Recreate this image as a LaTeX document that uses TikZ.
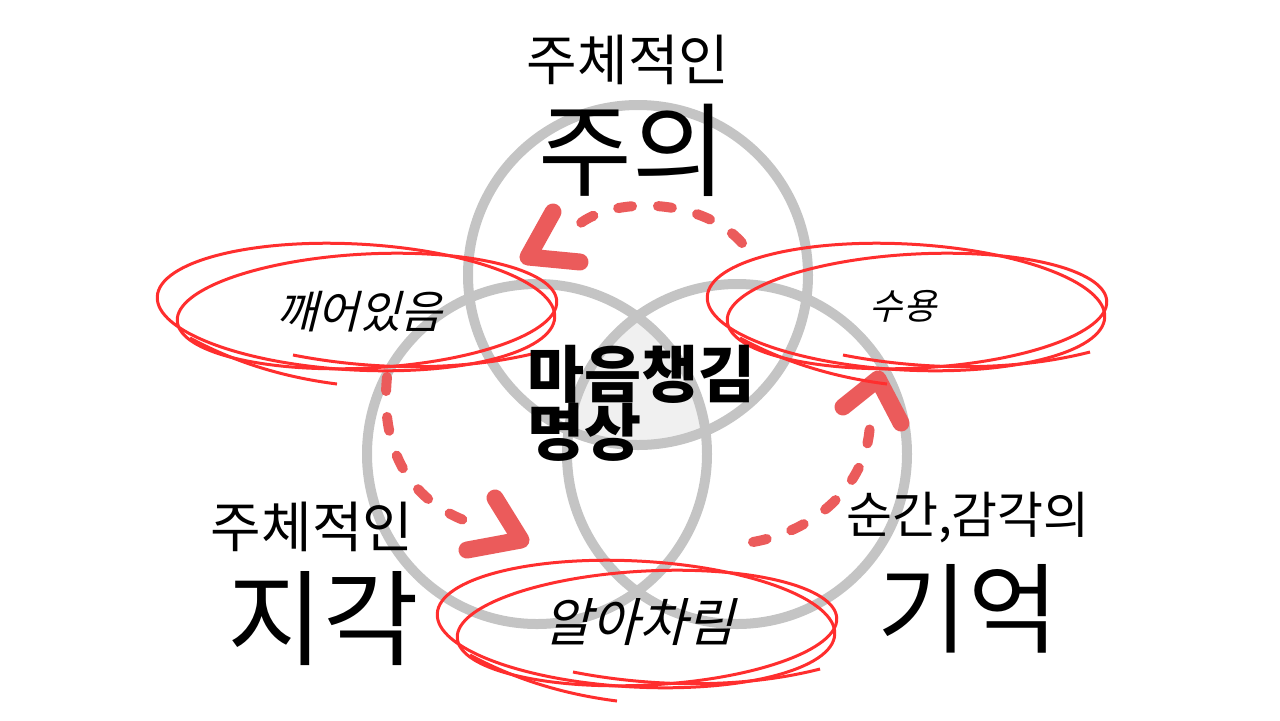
\documentclass[tikz,border=0pt]{standalone}
\usepackage{fontspec}
\usepackage{xcolor}
\usepackage{tikz}
\newfontfamily\kr{Noto Sans CJK KR}
\newfontfamily\krhand[FakeSlant=0.25]{Noto Sans CJK KR}
\definecolor{ringgray}{HTML}{C4C4C4}
\definecolor{coregray}{HTML}{F0F0F0}
\definecolor{penred}{HTML}{FF2E2E}
\definecolor{flowred}{HTML}{EB5B5B}
\tikzset{
  ring/.style ={draw=ringgray,line width=5pt},
  scrib/.style={draw=penred,line width=1.5pt},
  flow/.style ={draw=flowred,line width=5pt,line cap=round,dash pattern=on 7pt off 13pt},
  chev/.style ={draw=flowred,line width=8.5pt,line cap=round,line join=round},
  sub/.style  ={font=\kr\fontsize{27.5}{32}\selectfont,inner sep=0pt,anchor=base},
  big/.style  ={font=\kr\fontsize{51}{58}\selectfont,inner sep=0pt,anchor=base},
  core/.style ={font=\kr\bfseries\fontsize{31}{34}\selectfont,inner sep=0pt,anchor=base west},
  hand/.style ={font=\krhand\fontsize{22.5}{26}\selectfont,inner sep=0pt},
}

\begin{document}
\begin{tikzpicture}[x=0.5pt,y=-0.5pt]
  \useasboundingbox (0,0) rectangle (1280,720);
  % shaded core where all three rings meet
  \begin{scope}
    \clip (638,275) circle[radius=170];
    \clip (537,454) circle[radius=170];
    \fill[coregray] (737,454) circle[radius=170];
  \end{scope}
  % the three rings
  \draw[ring] (638,275) circle[radius=170];
  \draw[ring] (537,454) circle[radius=170];
  \draw[ring] (737,454) circle[radius=170];

  % dashed flow arrows between the scribbled words
  \coordinate (tA) at (742,243);  \coordinate (tB) at (570,233);
  \coordinate (tL) at (553,212);  \coordinate (tV) at (528,257);  \coordinate (tR) at (580,262);
  \coordinate (lA) at (387,377);  \coordinate (lB) at (478,525);
  \coordinate (lL) at (495,498);  \coordinate (lV) at (521,540);  \coordinate (lR) at (467,550);
  \coordinate (rA) at (753,542);  \coordinate (rB) at (870,420);
  \coordinate (rL) at (843,407);  \coordinate (rV) at (878,379);  \coordinate (rR) at (901,423);
  \draw[flow] (tA) .. controls (700,195) and (600,195) .. (tB);
  \draw[chev] (tL) -- (tV) -- (tR);
  \draw[flow] (lA) .. controls (380,450) and (410,505) .. (lB);
  \draw[chev] (lL) -- (lV) -- (lR);
  \draw[flow] (rA) .. controls (820,530) and (870,480) .. (rB);
  \draw[chev] (rL) -- (rV) -- (rR);

  % red scribbles round the hand-written words
  \foreach \dx/\dy in {0/0, 550/0, 280/317}{
    \begin{scope}[shift={(\dx,\dy)}]
      \draw[scrib,rotate around={-3:(356,307)}] (356,307) ellipse[x radius=199,y radius=63];
      \draw[scrib,rotate around={3:(367,311)}] (367,311) ellipse[x radius=190,y radius=57];
      \draw[scrib] (293,355) .. controls (380,372) and (470,370) .. (540,352);
      \draw[scrib] (190,338) .. controls (240,365) and (290,378) .. (337,384);
    \end{scope}
  }
  \node[hand] (awake)  at (359,312) {깨어있음};
  \node[hand,font=\krhand\fontsize{18}{22}\selectfont] (accept) at (903,306) {수용};
  \node[hand,font=\krhand\fontsize{26}{30}\selectfont] (notice) at (639,622) {알아차림};

  % labels
  \node[sub] (topsub)   at (628,80)  {주체적인};
  \node[big] (topbig)   at (632,188) {주의};
  \node[sub] (leftsub)  at (312,547) {주체적인};
  \node[big,font=\kr\fontsize{52}{58}\selectfont] (leftbig) at (323,657) {지각};
  \node[sub,font=\kr\fontsize{25}{30}\selectfont] (rightsub) at (968,533) {순간,감각의};
  \node[big,font=\kr\fontsize{49}{56}\selectfont] (rightbig) at (968,645) {기억};
  \node[core] (core1) at (527,397) {마음챙김};
  \node[core] (core2) at (527,455) {명상};
\end{tikzpicture}
\end{document}
